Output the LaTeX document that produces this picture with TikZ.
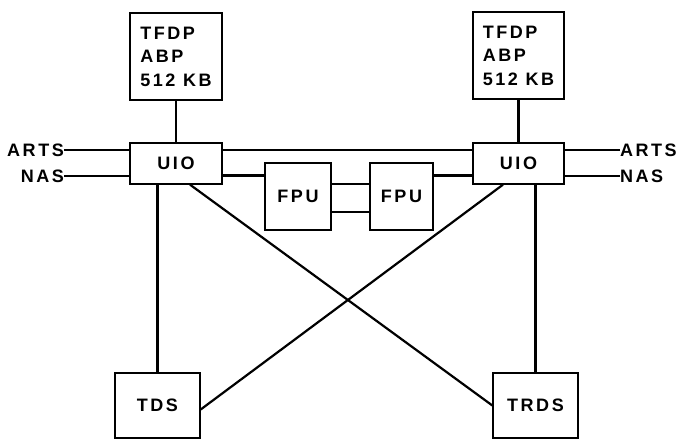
\documentclass[tikz,border=0pt]{standalone}
\usepackage{fontspec}
\setmainfont{Liberation Sans}[LetterSpace=14]
\usepackage{tikz}

\tikzset{
  unitbox/.style={draw,line width=1.3pt,inner sep=0pt,font=\bfseries},
  bus/.style={line width=2.2pt},
  portlabel/.style={inner sep=0pt,font=\bfseries}
}

\begin{document}
\begin{tikzpicture}[x=1pt,y=-1pt]
\useasboundingbox (0,0) rectangle (680,439);
\fontsize{18}{23.5}\selectfont
% memories
\node[unitbox,minimum width=92pt,minimum height=87pt,align=left] (tfdpL) at (176,56.5) {TFDP\\ABP\\512 KB};
\node[unitbox,minimum width=91pt,minimum height=87pt,align=left] (tfdpR) at (518.5,55.5) {TFDP\\ABP\\512 KB};
% interface units
\node[unitbox,minimum width=92pt,minimum height=41pt] (uioL) at (176,163.5) {UIO};
\node[unitbox,minimum width=91pt,minimum height=41pt] (uioR) at (518.5,163.5) {UIO};
% floating point units
\node[unitbox,minimum width=66pt,minimum height=67pt] (fpuL) at (298,196.5) {FPU};
\node[unitbox,minimum width=63pt,minimum height=67pt] (fpuR) at (401.5,196.5) {FPU};
% disk stations
\node[unitbox,minimum width=85pt,minimum height=65pt] (tds) at (157.5,405.5) {TDS};
\node[unitbox,minimum width=85pt,minimum height=65pt] (trds) at (535.5,405.5) {TRDS};
% external lines
\node[portlabel,anchor=east] (artsL) at (64,150) {ARTS};
\node[portlabel,anchor=east] (nasL) at (64,176) {NAS};
\node[portlabel,anchor=west] (artsR) at (620,150) {ARTS};
\node[portlabel,anchor=west] (nasR) at (620,176) {NAS};

\draw[bus] (tfdpL) -- (uioL);
\draw[bus] (tfdpR) -- (uioR);
\draw[bus] (artsL.east) -- (artsL.east -| uioL.west);
\draw[bus] (nasL.east) -- (nasL.east -| uioL.west);
\draw[bus] (artsR.west) -- (artsR.west -| uioR.east);
\draw[bus] (nasR.west) -- (nasR.west -| uioR.east);
\draw[bus] ([yshift=13.5pt]uioL.east) -- ([yshift=13.5pt]uioR.west);
\draw[bus] ([yshift=-12pt]uioL.east) -- ([yshift=-12pt]uioL.east -| fpuL.west);
\draw[bus] ([yshift=-12pt]uioR.west) -- ([yshift=-12pt]uioR.west -| fpuR.east);
\draw[bus] ([yshift=12.5pt]fpuL.east) -- ([yshift=12.5pt]fpuR.west);
\draw[bus] ([yshift=-15.5pt]fpuL.east) -- ([yshift=-15.5pt]fpuR.west);
\draw[bus] (tds.north |- uioL.south) -- (tds.north);
\draw[bus] (trds.north |- uioR.south) -- (trds.north);
\draw[bus] ([xshift=14pt]uioL.south) -- (trds.west);
\draw[bus] ([xshift=-15.5pt]uioR.south) -- ([yshift=-4pt]tds.east);
\end{tikzpicture}
\end{document}
